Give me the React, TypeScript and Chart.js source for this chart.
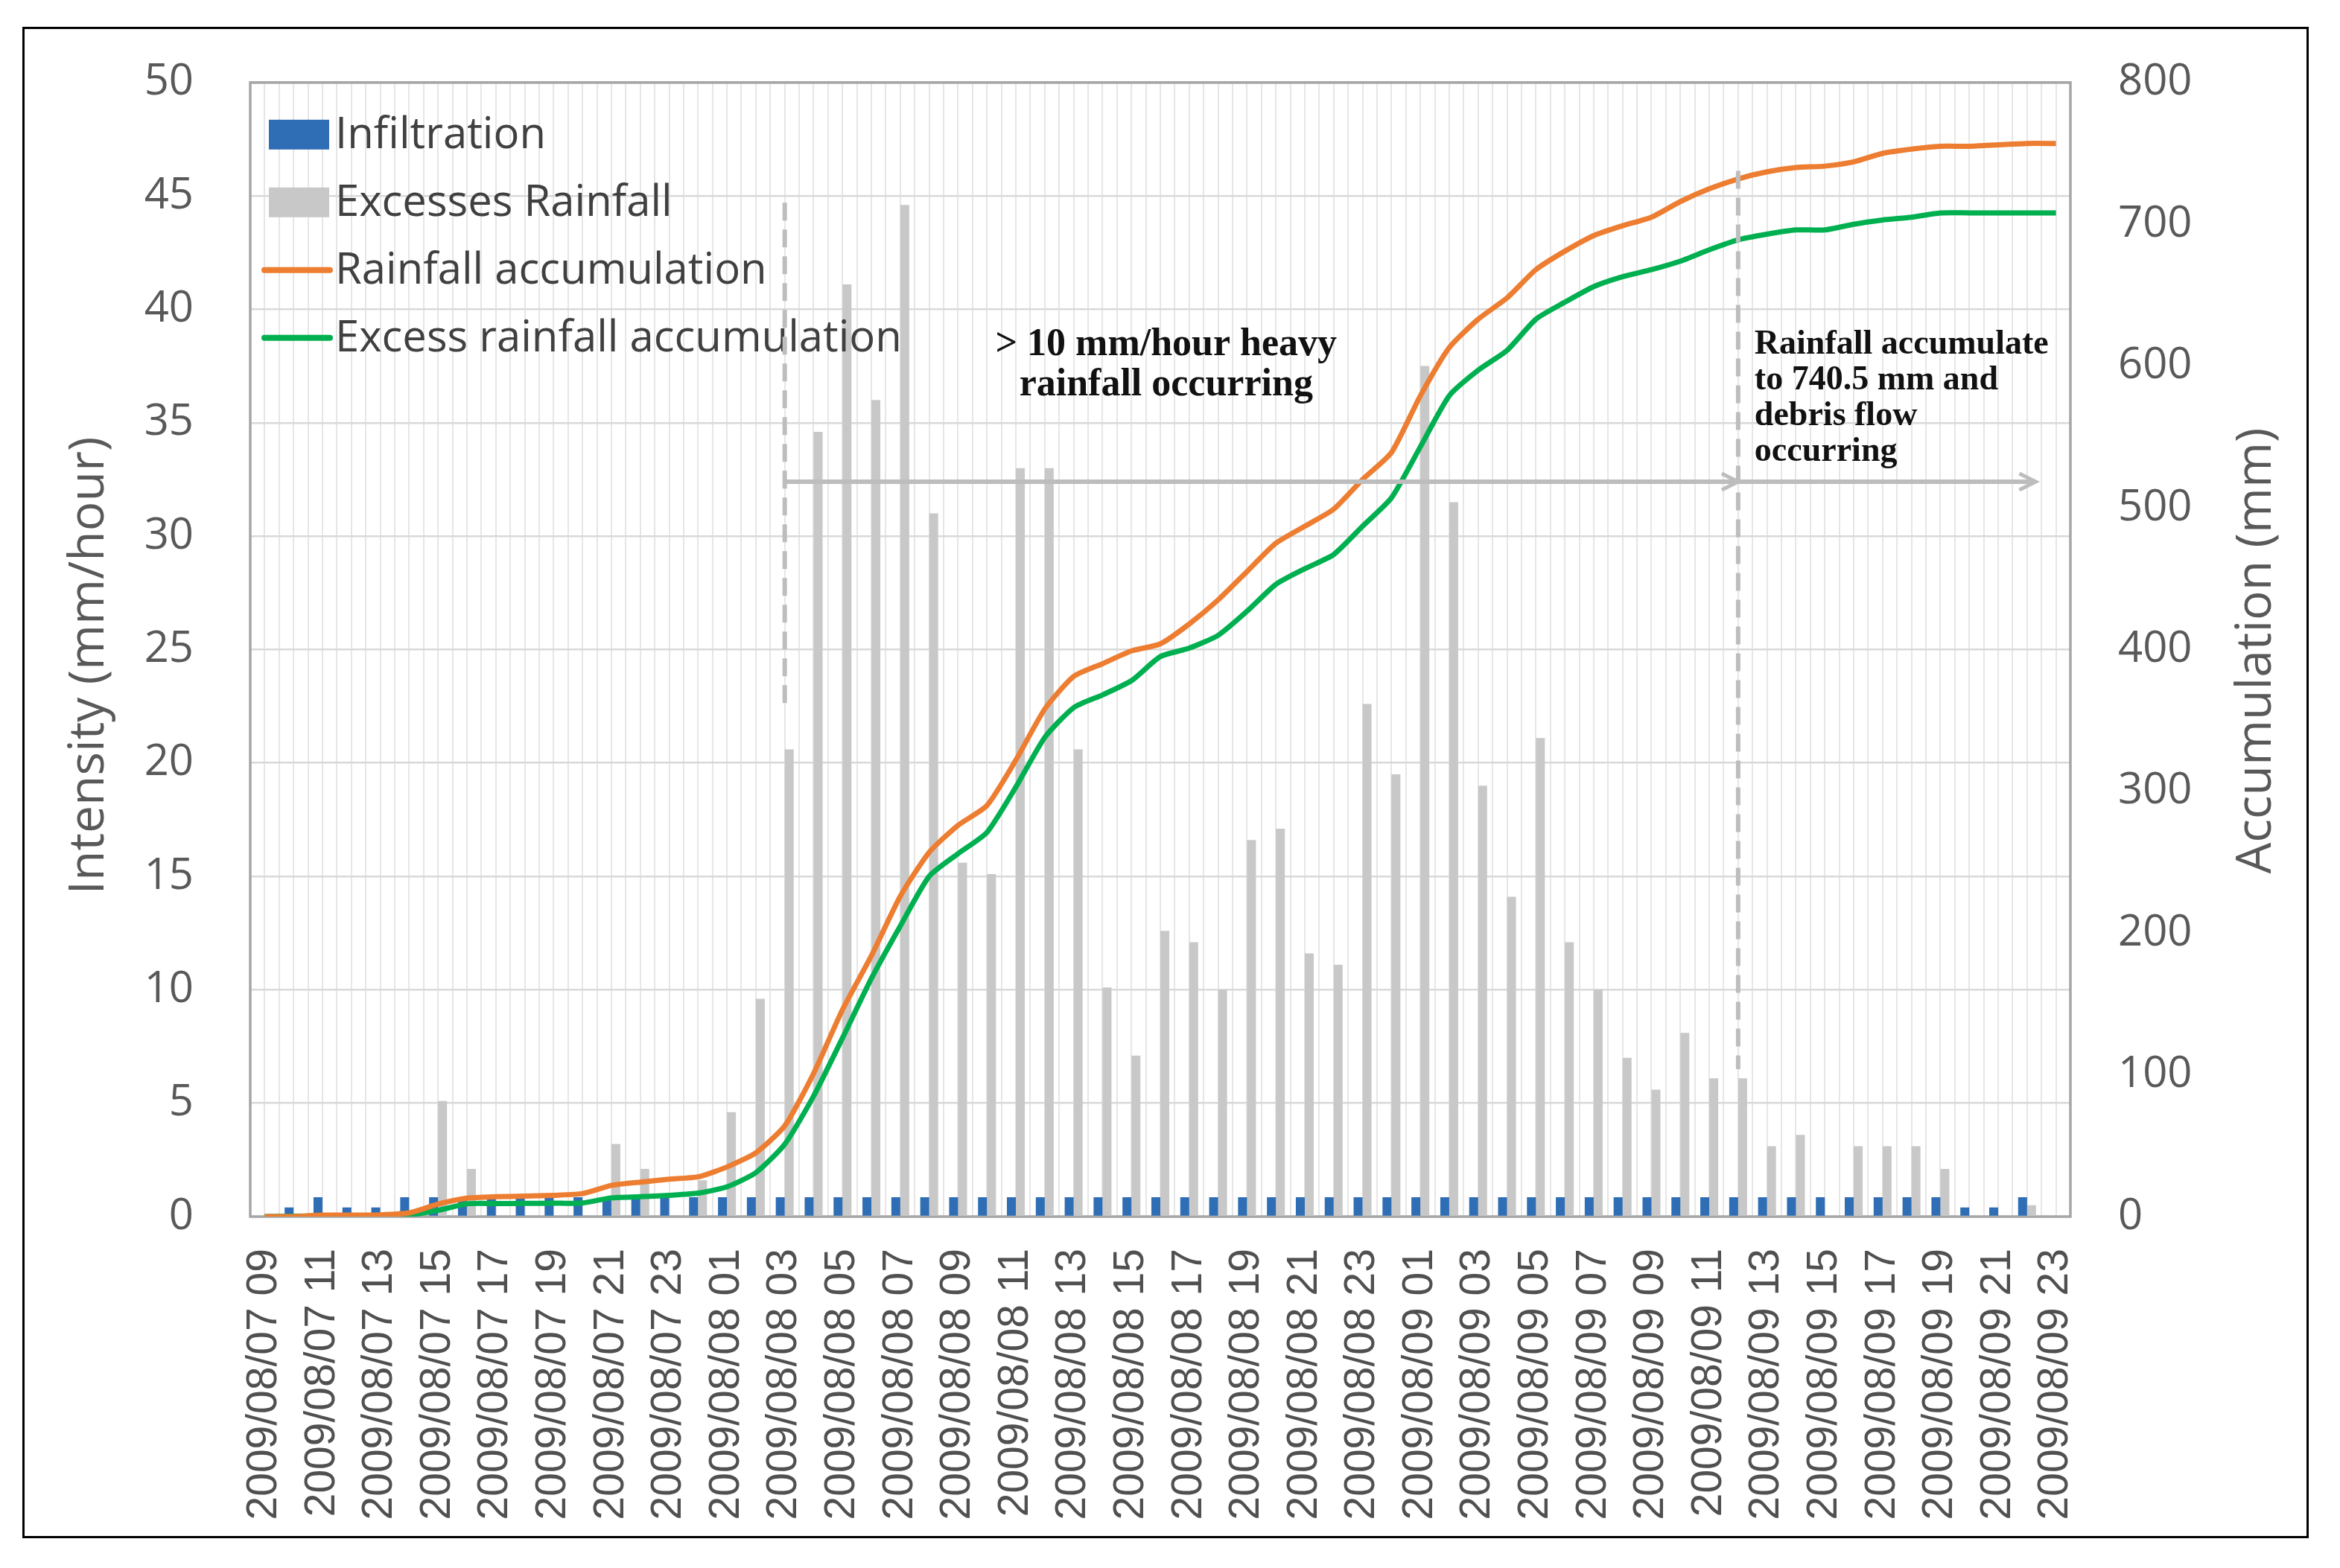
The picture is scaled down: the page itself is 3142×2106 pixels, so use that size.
import React, { useEffect, useRef } from 'react';
import { Chart, registerables } from 'chart.js';

Chart.register(...registerables);

const categories = [
  '2009/08/07 09', '2009/08/07 10', '2009/08/07 11', '2009/08/07 12', '2009/08/07 13',
  '2009/08/07 14', '2009/08/07 15', '2009/08/07 16', '2009/08/07 17', '2009/08/07 18',
  '2009/08/07 19', '2009/08/07 20', '2009/08/07 21', '2009/08/07 22', '2009/08/07 23',
  '2009/08/08 00', '2009/08/08 01', '2009/08/08 02', '2009/08/08 03', '2009/08/08 04',
  '2009/08/08 05', '2009/08/08 06', '2009/08/08 07', '2009/08/08 08', '2009/08/08 09',
  '2009/08/08 10', '2009/08/08 11', '2009/08/08 12', '2009/08/08 13', '2009/08/08 14',
  '2009/08/08 15', '2009/08/08 16', '2009/08/08 17', '2009/08/08 18', '2009/08/08 19',
  '2009/08/08 20', '2009/08/08 21', '2009/08/08 22', '2009/08/08 23', '2009/08/09 00',
  '2009/08/09 01', '2009/08/09 02', '2009/08/09 03', '2009/08/09 04', '2009/08/09 05',
  '2009/08/09 06', '2009/08/09 07', '2009/08/09 08', '2009/08/09 09', '2009/08/09 10',
  '2009/08/09 11', '2009/08/09 12', '2009/08/09 13', '2009/08/09 14', '2009/08/09 15',
  '2009/08/09 16', '2009/08/09 17', '2009/08/09 18', '2009/08/09 19', '2009/08/09 20',
  '2009/08/09 21', '2009/08/09 22', '2009/08/09 23',
];

const infiltration = [
  0, 0.4, 0.85, 0.4, 0.4, 0.85, 0.85, 0.85, 0.85, 0.85,
  0.85, 0.85, 0.85, 0.85, 0.85, 0.85, 0.85, 0.85, 0.85, 0.85,
  0.85, 0.85, 0.85, 0.85, 0.85, 0.85, 0.85, 0.85, 0.85, 0.85,
  0.85, 0.85, 0.85, 0.85, 0.85, 0.85, 0.85, 0.85, 0.85, 0.85,
  0.85, 0.85, 0.85, 0.85, 0.85, 0.85, 0.85, 0.85, 0.85, 0.85,
  0.85, 0.85, 0.85, 0.85, 0.85, 0.85, 0.85, 0.85, 0.85, 0.4,
  0.4, 0.85, 0,
];

const excessRainfall = [
  0, 0, 0, 0, 0, 0, 5.1, 2.1, 0, 0,
  0, 0, 3.2, 2.1, 0, 1.6, 4.6, 9.6, 20.6, 34.6,
  41.1, 36.0, 44.6, 31.0, 15.6, 15.1, 33.0, 33.0, 20.6, 10.1,
  7.1, 12.6, 12.1, 10.0, 16.6, 17.1, 11.6, 11.1, 22.6, 19.5,
  37.5, 31.5, 19.0, 14.1, 21.1, 12.1, 10.0, 7.0, 5.6, 8.1,
  6.1, 6.1, 3.1, 3.6, 0, 3.1, 3.1, 3.1, 2.1, 0,
  0, 0.5, 0,
];

const rainfallAccumulation = [
  0, 0, 1, 1, 1.2, 2.6, 8.8, 13, 14, 14.4,
  15, 16.2, 22, 24.3, 26.4, 28, 35, 45, 64, 101,
  146, 184, 226, 257, 276, 290, 322, 358, 381, 390,
  399, 404, 418, 435, 455, 475, 487, 499, 520, 539,
  579, 613, 633, 648, 668, 681, 692, 699, 705, 716,
  725, 732, 737, 740, 741, 744, 750, 753, 755, 755,
  756, 757, 757,
];

const excessAccumulation = [
  0, 0.3, 0.5, 0.5, 0.8, 1.2, 4.4, 9, 9.2, 9.3,
  9.4, 9.6, 13.2, 14, 15, 16.5, 21, 31, 51, 85,
  126, 168, 205, 240, 256, 271, 303, 338, 359, 368,
  378, 395, 401, 410, 427, 446, 457, 467, 487, 507,
  543, 579, 597, 611, 633, 645, 656, 663, 668, 674,
  682, 689, 693, 696, 696, 700, 703, 705, 708, 708,
  708, 708, 708,
];

const intensityTicks = [0, 5, 10, 15, 20, 25, 30, 35, 40, 45, 50];
const accumulationTicks = [0, 100, 200, 300, 400, 500, 600, 700, 800];

const leftTitle = 'Intensity (mm/hour)';
const rightTitle = 'Accumulation (mm)';

const heavyRainText = ['> 10 mm/hour heavy', 'rainfall occurring'];
const debrisText = ['Rainfall accumulate', 'to 740.5 mm and', 'debris flow', 'occurring'];
const heavyRainStart = 18; // index of 2009/08/08 03
const debrisTime = 51; // index of 2009/08/09 12
const arrowEnd = 61.3;
const arrowLevel = 32.4; // intensity axis
const heavyDash = [22.6, 44.7];
const debrisDash = [6.5, 46.1];

const COLORS = {
  infiltration: '#2F6EB5',
  excess: '#C8C8C8',
  rain: '#ED7D31',
  excessAcc: '#00B050',
  tick: '#595959',
  legend: '#404040',
  annot: '#BDBDBD',
};

const overlayPlugin = {
  id: 'overlay',
  beforeDatasetsDraw(chart: any) {
    const { ctx, chartArea: a } = chart;
    ctx.save();
    ctx.strokeStyle = '#A6A6A6';
    ctx.lineWidth = 3.5;
    ctx.strokeRect(a.left, a.top, a.right - a.left, a.bottom - a.top);
    ctx.restore();
  },
  afterDatasetsDraw(chart: any) {
    const { ctx, chartArea: a, scales } = chart;
    const xs = scales.x;
    const ys = scales.y;

    ctx.save();
    // legend
    const ds = chart.data.datasets;
    ctx.font = '58px "Open Sans"';
    ctx.textBaseline = 'middle';
    ctx.textAlign = 'left';
    const lx = a.left + 19;
    ds.forEach((d: any, k: number) => {
      const cy = a.top + 70 + 91 * k;
      if (d.type === 'line') {
        ctx.strokeStyle = d.borderColor;
        ctx.lineWidth = 8;
        ctx.lineCap = 'round';
        ctx.beginPath();
        ctx.moveTo(lx, cy);
        ctx.lineTo(lx + 88, cy);
        ctx.stroke();
      } else {
        ctx.fillStyle = d.backgroundColor;
        ctx.fillRect(lx + 6, cy - 20, 81, 40);
      }
      ctx.fillStyle = COLORS.legend;
      ctx.fillText(d.label, lx + 95, cy + 2);
    });

    // dashed vertical lines
    ctx.strokeStyle = COLORS.annot;
    ctx.lineWidth = 6;
    ctx.lineCap = 'butt';
    ctx.setLineDash([24, 12]);
    const dash = (idx: number, r: number[]) => {
      const x = xs.getPixelForValue(idx);
      ctx.beginPath();
      ctx.moveTo(x, ys.getPixelForValue(r[1]));
      ctx.lineTo(x, ys.getPixelForValue(r[0]));
      ctx.stroke();
    };
    dash(heavyRainStart, heavyDash);
    dash(debrisTime, debrisDash);
    ctx.setLineDash([]);

    // arrows
    const ay = ys.getPixelForValue(arrowLevel);
    const arrow = (from: number, to: number) => {
      const x0 = xs.getPixelForValue(from);
      const x1 = xs.getPixelForValue(to);
      ctx.strokeStyle = COLORS.annot;
      ctx.lineWidth = 6;
      ctx.beginPath();
      ctx.moveTo(x0, ay);
      ctx.lineTo(x1 - 4, ay);
      ctx.stroke();
      ctx.lineWidth = 5;
      ctx.lineJoin = 'miter';
      ctx.beginPath();
      ctx.moveTo(x1 - 22, ay - 11);
      ctx.lineTo(x1, ay);
      ctx.lineTo(x1 - 22, ay + 11);
      ctx.stroke();
    };
    arrow(heavyRainStart, debrisTime);
    arrow(debrisTime, arrowEnd);

    // annotation texts
    ctx.fillStyle = '#111111';
    ctx.font = 'bold 52px "Liberation Serif"';
    ctx.textAlign = 'center';
    const t1x = xs.getPixelForValue(31.2);
    heavyRainText.forEach((t, k) => ctx.fillText(t, t1x, a.top + 353 + 54 * k));
    ctx.font = 'bold 46px "Liberation Serif"';
    ctx.textAlign = 'left';
    const t2x = xs.getPixelForValue(debrisTime) + 22;
    debrisText.forEach((t, k) => ctx.fillText(t, t2x, a.top + 352 + 48 * k));

    // axis titles
    ctx.fillStyle = COLORS.tick;
    ctx.font = '66px "Open Sans"';
    ctx.textAlign = 'center';
    ctx.textBaseline = 'middle';
    ctx.save();
    ctx.translate(a.left - 216, 894);
    ctx.rotate(-Math.PI / 2);
    ctx.fillText(leftTitle, 0, 0);
    ctx.restore();
    ctx.save();
    ctx.translate(a.right + 250, 874);
    ctx.rotate(-Math.PI / 2);
    ctx.fillText(rightTitle, 0, 0);
    ctx.restore();

    ctx.restore();
  },
};

export default function App() {
  const ref = useRef<HTMLCanvasElement | null>(null);

  useEffect(() => {
    document.body.style.overflow = 'hidden';
    const canvas = ref.current;
    if (!canvas) return;
    const chart = new Chart(canvas, {
      type: 'bar',
      data: {
        labels: categories,
        datasets: [
          {
            type: 'bar',
            label: 'Infiltration',
            data: infiltration,
            backgroundColor: COLORS.infiltration,
            yAxisID: 'y',
            xAxisID: 'x',
            categoryPercentage: 0.62,
            barPercentage: 1,
            order: 2,
          },
          {
            type: 'bar',
            label: 'Excesses Rainfall',
            data: excessRainfall,
            backgroundColor: COLORS.excess,
            yAxisID: 'y',
            xAxisID: 'x',
            categoryPercentage: 0.62,
            barPercentage: 1,
            order: 2,
          },
          {
            type: 'line',
            label: 'Rainfall accumulation',
            data: rainfallAccumulation,
            borderColor: COLORS.rain,
            backgroundColor: COLORS.rain,
            borderWidth: 7,
            pointRadius: 0,
            tension: 0.2,
            yAxisID: 'y1',
            xAxisID: 'x',
            order: 0,
          },
          {
            type: 'line',
            label: 'Excess rainfall accumulation',
            data: excessAccumulation,
            borderColor: COLORS.excessAcc,
            backgroundColor: COLORS.excessAcc,
            borderWidth: 7,
            pointRadius: 0,
            tension: 0.2,
            yAxisID: 'y1',
            xAxisID: 'x',
            order: 1,
          },
        ],
      } as any,
      options: {
        animation: false,
        responsive: false,
        devicePixelRatio: 1,
        layout: { padding: { top: 100, left: 0, right: 0, bottom: 0 } },
        plugins: {
          legend: { display: false },
          tooltip: { enabled: false },
        },
        font: { family: '"Open Sans"' },
        scales: {
          x: {
            type: 'category',
            offset: true,
            grid: { offset: true, color: '#E6E6E6', lineWidth: 2, drawTicks: false },
            border: { display: false },
            ticks: {
              autoSkip: false,
              minRotation: 90,
              maxRotation: 90,
              padding: 43,
              color: '#505050',
              font: { family: '"Liberation Sans"', size: 57 },
              callback: (_v: any, i: number) => (i % 2 === 0 ? categories[i] : ''),
            },
            afterFit: (s: any) => {
              s.height = 472;
            },
          },
          x2: {
            type: 'category',
            labels: categories,
            offset: true,
            position: 'bottom',
            grid: { offset: false, color: '#E6E6E6', lineWidth: 2, drawTicks: false },
            border: { display: false },
            ticks: { display: false },
            afterFit: (s: any) => {
              s.height = 0;
            },
          },
          y: {
            type: 'linear',
            position: 'left',
            min: intensityTicks[0],
            max: intensityTicks[intensityTicks.length - 1],
            ticks: {
              stepSize: intensityTicks[1] - intensityTicks[0],
              padding: 76,
              color: COLORS.tick,
              font: { family: '"Open Sans"', size: 58 },
            },
            grid: { color: '#D9D9D9', lineWidth: 2.5, drawTicks: false },
            border: { display: false },
            afterFit: (s: any) => {
              s.width = 336;
            },
          },
          y1: {
            type: 'linear',
            position: 'right',
            min: accumulationTicks[0],
            max: accumulationTicks[accumulationTicks.length - 1],
            ticks: {
              stepSize: accumulationTicks[1] - accumulationTicks[0],
              padding: 64,
              color: COLORS.tick,
              font: { family: '"Open Sans"', size: 58 },
            },
            grid: { display: false, drawTicks: false },
            border: { display: false },
            afterFit: (s: any) => {
              s.width = 362;
            },
          },
        },
      } as any,
      plugins: [overlayPlugin],
    });
    return () => chart.destroy();
  }, []);

  return (
    <div style={{ position: 'absolute', left: 0, top: 0, width: 3142, height: 2106, background: '#ffffff' }}>
      <canvas ref={ref} width={3142} height={2106} style={{ width: 3142, height: 2106, display: 'block' }} />
      <div
        style={{
          position: 'absolute',
          left: 30,
          top: 36,
          width: 3070,
          height: 2030,
          border: '3px solid #000',
          boxSizing: 'border-box',
          pointerEvents: 'none',
        }}
      />
    </div>
  );
}
